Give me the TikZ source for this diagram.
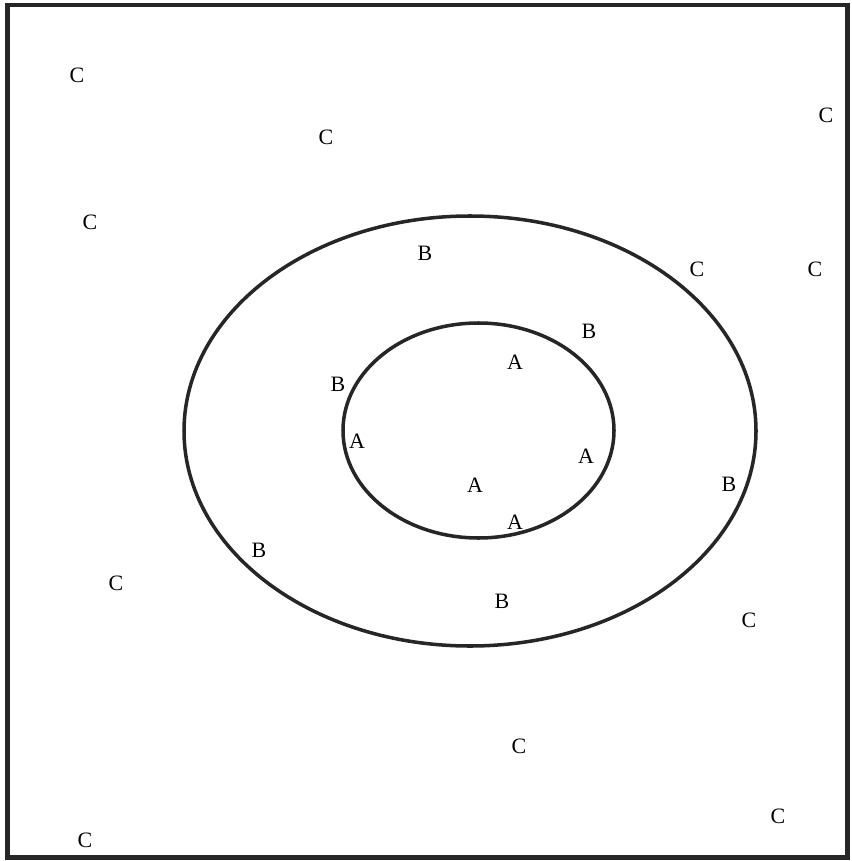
\documentclass[tikz,border=0pt]{standalone}
\usepackage{fontspec}
\setmainfont{Liberation Serif}
\usetikzlibrary{positioning}
\tikzset{
   ring/.style={line width=2pt, black!85},
   lbl/.style={inner sep=0pt, font=\fontsize{12.5}{14}\selectfont}
}
\begin{document}
\begin{tikzpicture}[x=0.02cm, y=-0.02cm]
   \useasboundingbox (0,0) rectangle (851,861);
   % Frame
   \draw[line width=2.6pt, black!85] (7.5,5) rectangle (847.5,857.5);
   % Outer and inner ellipse
   \draw[ring] (470,431) ellipse [x radius=286, y radius=215];
   \draw[ring] (478.5,430.5) ellipse [x radius=135.5, y radius=107.5];
   % Region C
   \node[lbl] (c1) at (77,75) {C};
   \node[lbl] (c2) at (326,137) {C};
   \node[lbl] (c3) at (826,115) {C};
   \node[lbl] (c4) at (90,222) {C};
   \node[lbl] (c5) at (697,269) {C};
   \node[lbl] (c6) at (815,269) {C};
   \node[lbl] (c7) at (116,583) {C};
   \node[lbl] (c8) at (749,620) {C};
   \node[lbl] (c9) at (519,746) {C};
   \node[lbl] (c10) at (778,816) {C};
   \node[lbl] (c11) at (85,840) {C};
   % Region B
   \node[lbl] (b1) at (425,253) {B};
   \node[lbl] (b2) at (589,331) {B};
   \node[lbl] (b3) at (338,384) {B};
   \node[lbl] (b4) at (729,484) {B};
   \node[lbl] (b5) at (259,550) {B};
   \node[lbl] (b6) at (502,601) {B};
   % Region A
   \node[lbl] (a1) at (515,362) {A};
   \node[lbl] (a2) at (357,441) {A};
   \node[lbl] (a3) at (586,456) {A};
   \node[lbl] (a4) at (475,485) {A};
   \node[lbl] (a5) at (515,522) {A};
\end{tikzpicture}
\end{document}
